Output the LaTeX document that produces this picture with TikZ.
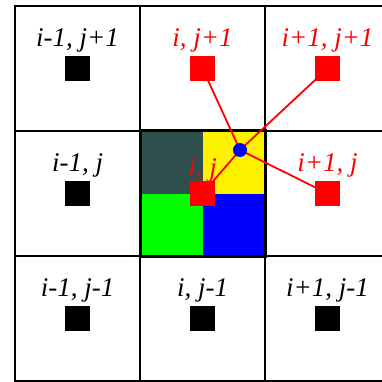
\documentclass[tikz,border=0pt]{standalone}
\usepackage{fontspec}
\setmainfont{Liberation Serif}
\usetikzlibrary{positioning,backgrounds}

\definecolor{slate}{HTML}{2F4F4F}

\begin{document}
\begin{tikzpicture}[x=1pt,y=-1pt]
  \tikzstyle{cellsq}=[rectangle,minimum size=25pt,inner sep=0pt]
  \tikzstyle{lbl}=[inner sep=0pt,font=\fontsize{27}{30}\selectfont\itshape]
  \tikzstyle{grid}=[line width=2pt]
  \tikzstyle{link}=[red,line width=1.8pt]
  \useasboundingbox (0,0) rectangle (381,382);
  \clip (0,0) rectangle (381,382);

  % centre cell, four quadrants
  \begin{pgfonlayer}{background}
  \fill[slate]  (140,131) rectangle (202.5,193.5);
  \fill[yellow] (202.5,131) rectangle (265,193.5);
  \fill[green]  (140,193.5) rectangle (202.5,256);
  \fill[blue]   (202.5,193.5) rectangle (265,256);

  \draw[grid] (15,6) rectangle (390,381);
  \foreach \x in {140,265} \draw[grid] (\x,6) -- (\x,381);
  \foreach \y in {131,256} \draw[grid] (15,\y) -- (390,\y);
  \draw[line width=3pt] (140,131) rectangle (265,256);
  \end{pgfonlayer}

  % squares
  \node[cellsq,fill=black] (nw) at (77.5,68.5) {};
  \node[cellsq,fill=red]   (n)  at (202.5,68.5) {};
  \node[cellsq,fill=red]   (ne) at (327.5,68.5) {};
  \node[cellsq,fill=black] (w)  at (77.5,193.5) {};
  \node[cellsq,fill=red]   (c)  at (202.5,193.5) {};
  \node[cellsq,fill=red]   (e)  at (327.5,193.5) {};
  \node[cellsq,fill=black] (sw) at (77.5,318.5) {};
  \node[cellsq,fill=black] (s)  at (202.5,318.5) {};
  \node[cellsq,fill=black] (se) at (327.5,318.5) {};

  \node[circle,fill=blue,minimum size=14pt,inner sep=0pt] (pt) at (240,150) {};

  \begin{pgfonlayer}{background}
  \foreach \t in {n,ne,c,e} \draw[link] (pt.center) -- (\t.center);
  \end{pgfonlayer}

  % labels
  \node[lbl,above=3pt of nw] (lnw) {i-1, j+1};
  \node[lbl,red,above=3pt of n] (ln) {i, j+1};
  \node[lbl,red,above=3pt of ne] (lne) {i+1, j+1};
  \node[lbl,above=3pt of w] (lw) {i-1, j};
  \node[lbl,red,above=-2pt of c] (lc) {i, j};
  \node[lbl,red,above=3pt of e] (le) {i+1, j};
  \node[lbl,above=3pt of sw] (lsw) {i-1, j-1};
  \node[lbl,above=3pt of s] (ls) {i, j-1};
  \node[lbl,above=3pt of se] (lse) {i+1, j-1};
\end{tikzpicture}
\end{document}
